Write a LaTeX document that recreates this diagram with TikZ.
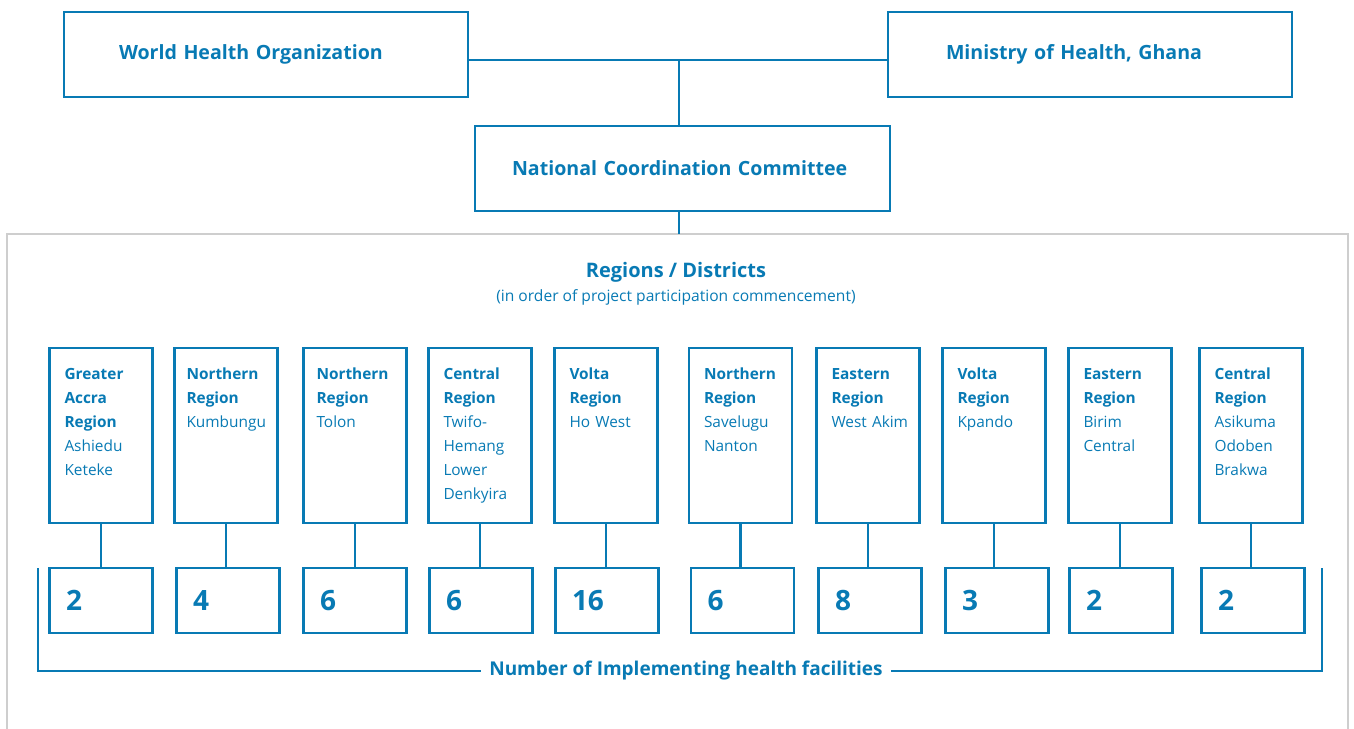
\documentclass[tikz,border=0pt]{standalone}
\usepackage{fontspec}
\setmainfont{Open Sans}
\usepackage{tikz}

\definecolor{whoblue}{RGB}{8,122,180}
\definecolor{framegray}{RGB}{206,206,206}

\begin{document}
\begin{tikzpicture}[x=0.5pt,y=-0.5pt,line width=1.1pt,draw=whoblue,text=whoblue,
    top/.style={draw,minimum height=42.5pt,inner xsep=27.5pt,text width=147pt,align=left,font=\fontsize{9.8}{12}\selectfont\bfseries},
    region/.style={draw,minimum width=51.5pt,minimum height=87.5pt},
    place/.style={anchor=base west,xshift=7.5pt,yshift=-16.5pt,inner sep=0pt,text width=44pt,align=left,font=\fontsize{7.7}{12}\selectfont},
    count/.style={draw,minimum width=51.5pt,minimum height=32.5pt,inner xsep=8pt,text width=35pt,align=left,font=\fontsize{14}{16}\selectfont\bfseries}]
  \useasboundingbox (0,0) rectangle (1354,728);
  % frame round the regions
  \draw[framegray,line width=1pt] (7,740) -- (7,234) -- (1348,234) -- (1348,740);
  \node[top] (who) at (266,54.5) {World Health Organization};
  \node[top,inner xsep=29pt,text width=144pt] (moh) at (1090,54.5) {Ministry of Health, Ghana};
  \node[top,inner xsep=18.5pt,text width=170.5pt] (ncc) at (682.5,168.5) {National Coordination Committee};
  \coordinate (jn) at (679,60);
  \coordinate (ft) at (679,234);
  \draw (who.east |- jn) -- (moh.west |- jn);
  \draw (jn) -- (jn |- ncc.north);
  \draw (ft |- ncc.south) -- (ft);
  \node[font=\fontsize{10}{12}\selectfont\bfseries] (head) at (676,272) {Regions / Districts};
  \node[font=\fontsize{7.8}{9}\selectfont] (sub) at (676,297) {(in order of project participation commencement)};
  % regions
  \node[region] (reg_1) at (101,435.5) {};
  \node[region] (reg_2) at (226,435.5) {};
  \node[region] (reg_3) at (355,435.5) {};
  \node[region] (reg_4) at (480,435.5) {};
  \node[region] (reg_5) at (606,435.5) {};
  \node[region] (reg_6) at (740.5,435.5) {};
  \node[region] (reg_7) at (868,435.5) {};
  \node[region] (reg_8) at (994,435.5) {};
  \node[region] (reg_9) at (1120,435.5) {};
  \node[region] (reg_10) at (1251,435.5) {};
  \node[place] (txt_1) at (reg_1.north west) {\textbf{Greater}\\\textbf{Accra}\\\textbf{Region}\\Ashiedu\\Keteke};
  \node[place,xshift=-1.5pt] (txt_2) at (reg_2.north west) {\textbf{Northern}\\\textbf{Region}\\Kumbungu};
  \node[place,xshift=-1pt] (txt_3) at (reg_3.north west) {\textbf{Northern}\\\textbf{Region}\\Tolon};
  \node[place] (txt_4) at (reg_4.north west) {\textbf{Central}\\\textbf{Region}\\Twifo-\\Hemang\\Lower\\Denkyira};
  \node[place] (txt_5) at (reg_5.north west) {\textbf{Volta}\\\textbf{Region}\\Ho West};
  \node[place] (txt_6) at (reg_6.north west) {\textbf{Northern}\\\textbf{Region}\\Savelugu\\Nanton};
  \node[place] (txt_7) at (reg_7.north west) {\textbf{Eastern}\\\textbf{Region}\\West Akim};
  \node[place] (txt_8) at (reg_8.north west) {\textbf{Volta}\\\textbf{Region}\\Kpando};
  \node[place] (txt_9) at (reg_9.north west) {\textbf{Eastern}\\\textbf{Region}\\Birim\\Central};
  \node[place] (txt_10) at (reg_10.north west) {\textbf{Central}\\\textbf{Region}\\Asikuma\\Odoben\\Brakwa};
  % facilities
  \node[count] (num_1) at (101,600.5) {2};
  \node[count] (num_2) at (228,600.5) {4};
  \node[count] (num_3) at (355,600.5) {6};
  \node[count] (num_4) at (481,600.5) {6};
  \node[count] (num_5) at (607,600.5) {16};
  \node[count] (num_6) at (742.5,600.5) {6};
  \node[count] (num_7) at (870,600.5) {8};
  \node[count] (num_8) at (997,600.5) {3};
  \node[count] (num_9) at (1121,600.5) {2};
  \node[count] (num_10) at (1253,600.5) {2};
  \draw (reg_1.south) -- (reg_1.south |- num_1.north);
  \draw (reg_2.south) -- (reg_2.south |- num_2.north);
  \draw (reg_3.south) -- (reg_3.south |- num_3.north);
  \draw (reg_4.south) -- (reg_4.south |- num_4.north);
  \draw (reg_5.south) -- (reg_5.south |- num_5.north);
  \draw (reg_6.south) -- (reg_6.south |- num_6.north);
  \draw (reg_7.south) -- (reg_7.south |- num_7.north);
  \draw (reg_8.south) -- (reg_8.south |- num_8.north);
  \draw (reg_9.south) -- (reg_9.south |- num_9.north);
  \draw (reg_10.south) -- (reg_10.south |- num_10.north);
  % bracket under the counts
  \coordinate (bl) at (38,568);
  \coordinate (br) at (1322,568);
  \draw (bl) -- (38,671) -- (1322,671) -- (br);
  \node[fill=white,inner xsep=4pt,font=\fontsize{9.5}{11}\selectfont\bfseries] (total) at (686,671) {Number of Implementing health facilities};
\end{tikzpicture}
\end{document}
